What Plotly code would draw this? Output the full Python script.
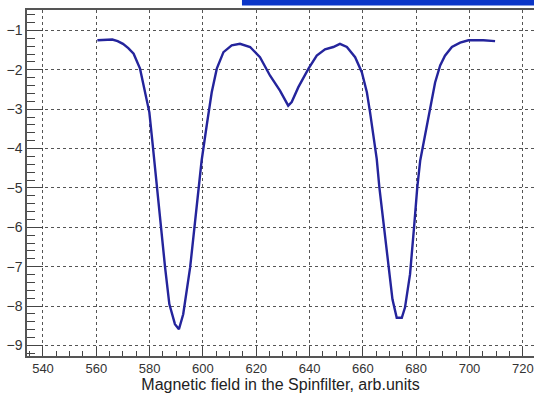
import plotly.graph_objects as go

field = [560.4, 563, 566, 568, 570, 572, 574, 576.4, 578.3, 579.9, 581, 582, 582.5,
         584.2, 585.8, 587.4, 589.5, 591, 592.6, 595.2, 596.8, 598.5, 599.5, 601.4,
         603.3, 605.2, 607.7, 610.8, 613.9, 617.7, 621.4, 625.2, 628.9, 632, 633.3,
         635.8, 639.6, 642.7, 645.8, 648.9, 651.4, 654, 657.1, 659.6, 661.5, 662.7,
         664, 665.2, 666.2, 668, 669.6, 671.1, 672.7, 674.6, 675.8, 677.7, 679.2,
         680.4, 681.5, 683.3, 685.2, 687.1, 689, 690.8, 693.4, 696.5, 699.6, 705.2, 709.6]
signal = [-1.25, -1.24, -1.23, -1.27, -1.34, -1.45, -1.59, -1.97, -2.57, -3.08, -3.8, -4.5, -4.9,
          -6.0, -7.02, -7.95, -8.46, -8.59, -8.21, -7.02, -6.0, -4.99, -4.31, -3.42,
          -2.57, -1.97, -1.55, -1.38, -1.34, -1.42, -1.68, -2.15, -2.53, -2.91, -2.82,
          -2.44, -1.97, -1.64, -1.48, -1.42, -1.34, -1.42, -1.68, -2.06, -2.57, -3.08,
          -3.67, -4.26, -4.99, -6.0, -7.02, -7.83, -8.3, -8.3, -8.04, -7.19, -6.0,
          -4.99, -4.31, -3.67, -2.99, -2.32, -1.89, -1.64, -1.42, -1.31, -1.25, -1.25, -1.27]

x_ticks = [540, 560, 580, 600, 620, 640, 660, 680, 700, 720]
y_ticks = [-1, -2, -3, -4, -5, -6, -7, -8, -9]
x_title = "Magnetic field in the Spinfilter, arb.units"

fig = go.Figure()
fig.add_trace(go.Scatter(x=field, y=signal, mode="lines",
                         line=dict(color="#24249c", width=2.4), showlegend=False))

font = "Liberation Sans, Arial, sans-serif"
fig.update_layout(
    width=534, height=393,
    margin=dict(l=27, r=0, t=10, b=37),
    paper_bgcolor="white", plot_bgcolor="white",
    font=dict(family=font, color="#333333", size=13),
    xaxis=dict(range=[534.0, 724.2], tickvals=x_ticks, ticks="inside", ticklen=9,
               tickcolor="#444", showline=True, linecolor="#555", linewidth=1.5, mirror=True,
               showgrid=True, gridcolor="#555", griddash="dot", gridwidth=1,
               zeroline=False, tickfont=dict(size=13),
               minor=dict(dtick=5, ticks="inside", ticklen=5, tickcolor="#444", showgrid=False),
               title=dict(text=x_title, font=dict(size=16, color="#222"), standoff=5)),
    yaxis=dict(range=[-9.27, -0.48], tickvals=y_ticks, ticks="inside", ticklen=16,
               tickcolor="#444", showline=True, linecolor="#555", linewidth=1.5, mirror=False,
               showgrid=True, gridcolor="#555", griddash="dot", gridwidth=1,
               zeroline=False, tickfont=dict(size=14),
               minor=dict(dtick=0.2, tick0=-1, ticks="inside", ticklen=8, tickcolor="#444", showgrid=False)),
    shapes=[dict(type="rect", xref="paper", yref="paper", x0=0.424, x1=1.0,
                 y0=1 + 4.5 / 346, y1=1 + 12 / 346, fillcolor="#0b36c8", line=dict(width=0),
                 layer="above")],
)

fig.write_html("out.html")
